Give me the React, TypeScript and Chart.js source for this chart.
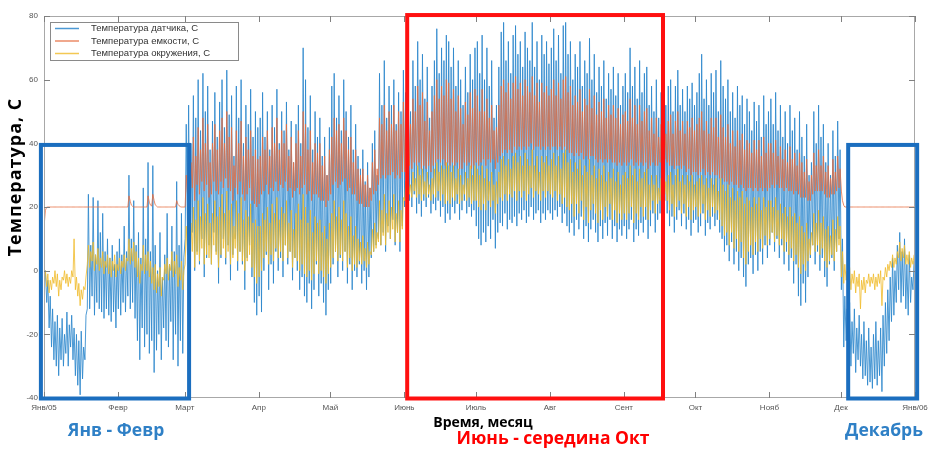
import React, { useEffect, useRef } from "react";
import { Chart, registerables } from "chart.js";

Chart.register(...registerables);

// ---- axis ticks ----
const monthTicks = [0, 31, 59, 90, 120, 151, 181, 212, 243, 273, 304, 334, 365];
const monthLabels = ["Янв/05", "Февр", "Март", "Апр", "Май", "Июнь", "Июль", "Авг", "Сент", "Окт", "Нояб", "Дек", "Янв/06"];
const yTicks = [-40, -20, 0, 20, 40, 60, 80];

const seriesNames = ["Температура датчика, С", "Температура емкости, С", "Температура окружения, С"];

// ---- daily maxima / minima (one value per day, Jan..Dec) ----
const sensorHigh = [
  0, -3, -8, -12, -16, -14, -18, -15, -20, -13, -17, -14, -18, -20, -22, -19, -24, -14, 24, 8, 23, 5, 22, 12, 18, 6, 10, 4, 8, 2, 6,
  10, 5, 14, 6, 30, 10, 22, 8, 12, 4, 26, 10, 34, 6, 33, 8, 0, 12, -2, 5, 18, 2, 14, 6, 28, 8, 18, 4,
  46, 52, 40, 55, 48, 60, 44, 62, 50, 58, 38, 47, 56, 42, 53, 60, 45, 63, 49, 55, 36, 58, 48, 60, 40, 52, 46, 57, 42, 50, 45,
  48, 56, 42, 50, 38, 52, 45, 57, 40, 50, 44, 53, 38, 47, 34, 46, 52, 40, 70, 60, 45, 55, 38, 50, 42, 48, 36, 42, 30, 45,
  58, 62, 48, 55, 44, 60, 50, 42, 52, 38, 46, 36, 32, 38, 28, 34, 26, 40, 44, 30, 62, 52, 66, 48, 58, 52, 60, 46, 56, 50, 63,
  56, 62, 50, 66, 58, 72, 60, 68, 54, 64, 48, 58, 66, 76, 62, 70, 66, 74, 72, 64, 70, 58, 66, 60, 52, 64, 56, 68, 60, 70,
  72, 62, 74, 60, 70, 58, 66, 48, 52, 64, 75, 78, 66, 72, 62, 74, 77, 68, 72, 64, 75, 70, 66, 78, 64, 72, 60, 74, 68, 72, 65,
  70, 76, 66, 74, 62, 77, 78, 68, 72, 60, 68, 64, 72, 58, 66, 62, 73, 60, 68, 56, 64, 58, 66, 54, 62, 57, 64, 55, 62, 52, 58,
  62, 56, 70, 58, 64, 54, 66, 56, 62, 64, 52, 58, 50, 60, 48, 56, 46, 52, 58, 60, 50, 58, 63, 52, 57, 50, 58, 54, 59, 52,
  56, 62, 68, 54, 60, 52, 62, 56, 63, 50, 66, 58, 54, 60, 50, 56, 48, 58, 52, 55, 46, 54, 50, 44, 53, 47, 52, 42, 55, 46, 50,
  54, 46, 56, 44, 52, 42, 50, 40, 52, 44, 48, 38, 50, 42, 36, 46, 30, 34, 50, 40, 52, 42, 46, 34, 40, 30, 44, 36, 47, 38,
  10, -8, -12, -10, -16, -12, -18, -14, -20, -16, -22, -18, -24, -20, -16, -22, -18, -14, -10, -6, -2, 4, 0, 8, 12, 6, 10, 2, 5, -2, 3,
];
const sensorLow = [
  -4, -10, -18, -24, -28, -30, -33, -28, -30, -26, -30, -24, -28, -33, -36, -39, -34, -28, -12, -12, -8, -14, -10, -12, -13, -15, -12, -14, -16, -13, -18,
  -12, -14, -10, -13, -8, -12, -10, -15, -22, -28, -18, -24, -20, -26, -22, -32, -25, -20, -28, -18, -22, -24, -16, -28, -20, -30, -22, -26,
  10, 8, 5, 12, 0, 6, 2, 10, -2, 4, 8, 2, 12, 6, -4, 4, 10, 2, 8, -3, 5, 10, 0, 6, 2, -6, 4, 8, -2, -10, -14,
  -8, -13, 0, 5, -6, 2, -4, 6, 0, 4, -2, 8, 2, 6, -3, 4, 0, -6, -2, -8, -10, -4, -12, -6, 2, -8, -4, -10, -14, -6,
  -4, 2, 6, -2, 4, 0, 6, -4, 2, -6, 0, -2, 2, -4, 0, -6, -2, 4, 6, 8, 10, 8, 12, 6, 14, 10, 16, 8, 12, 6, 14,
  20, 18, 22, 20, 24, 18, 21, 17, 22, 20, 23, 18, 21, 19, 22, 17, 20, 15, 18, 16, 20, 18, 21, 16, 19, 22, 18, 20, 17, 19,
  14, 10, 8, 12, 9, 14, 10, 16, 7, 12, 15, 14, 18, 13, 16, 15, 17, 14, 18, 16, 19, 15, 17, 20, 16, 18, 19, 15, 18, 16, 19,
  18, 16, 19, 17, 20, 15, 18, 14, 12, 15, 11, 16, 13, 17, 10, 14, 9, 13, 16, 12, 9, 14, 10, 15, 11, 16, 10, 14, 9, 13, 11,
  14, 10, 13, 16, 9, 13, 11, 15, 12, 16, 10, 14, 18, 12, 16, 18, 20, 22, 18, 14, 17, 12, 16, 19, 14, 18, 13, 16, 11, 15,
  16, 12, 14, 18, 11, 15, 13, 17, 14, 16, 12, 10, 6, 8, 3, 9, 2, 6, 0, 4, -2, -5, 2, 4, -1, 5, 0, 6, 2, 8, 4,
  8, 12, 6, 10, 4, 8, 2, 6, 0, 4, -4, 2, -8, -11, -4, -10, -2, 4, 8, 2, 6, 0, 4, -2, -5, 2, 4, 0, 6, 10,
  -6, -24, -22, -28, -30, -26, -32, -28, -30, -34, -33, -36, -35, -37, -34, -36, -33, -38, -30, -26, -22, -16, -14, -10, -6, -10, -8, -12, -14, -10, -6,
];

const tankHigh = [
  19, 20, 20, 20, 20, 20, 20, 20, 20, 20, 20, 20, 20, 20, 20, 20, 20, 20, 20, 20, 20, 20, 20, 20, 20, 20, 20, 20, 20, 20, 20,
  20, 20, 20, 20, 23.5, 20.6, 20, 20, 20, 20, 20, 20, 23.5, 20.6, 24, 20.7, 20, 20, 20, 20, 20, 20, 20, 20, 22, 20.4, 20, 20,
  30, 38, 34, 42, 36, 45, 38, 48, 40, 46, 34, 40, 46, 38, 44, 48, 40, 50, 42, 45, 33, 44, 40, 47, 36, 42, 38, 44, 36, 38, 35,
  36, 42, 38, 44, 36, 45, 40, 48, 38, 44, 40, 46, 36, 42, 34, 40, 44, 36, 50, 46, 38, 44, 34, 40, 37, 40, 33, 36, 30, 38,
  42, 48, 44, 46, 40, 48, 44, 38, 42, 34, 38, 32, 30, 32, 27, 30, 26, 34, 38, 32, 48, 46, 52, 44, 50, 46, 52, 44, 50, 46, 53,
  48, 52, 46, 54, 50, 58, 52, 56, 47, 53, 44, 50, 55, 60, 54, 58, 55, 60, 59, 54, 57, 50, 55, 51, 46, 53, 49, 56, 51, 57,
  55, 50, 57, 50, 54, 48, 52, 44, 45, 52, 58, 60, 56, 59, 54, 59, 61, 57, 59, 55, 60, 58, 56, 61, 55, 59, 53, 59, 56, 58, 55,
  57, 60, 55, 59, 54, 60, 61, 56, 58, 52, 55, 53, 57, 50, 54, 52, 57, 51, 55, 49, 53, 50, 54, 48, 52, 49, 52, 48, 51, 46, 49,
  50, 47, 54, 48, 52, 46, 52, 47, 50, 51, 44, 48, 43, 48, 42, 46, 40, 43, 47, 49, 43, 47, 50, 44, 47, 43, 47, 45, 48, 44,
  46, 48, 50, 44, 47, 43, 48, 45, 48, 42, 49, 45, 42, 46, 40, 44, 39, 44, 41, 43, 38, 41, 40, 37, 41, 38, 41, 36, 42, 37, 40,
  40, 37, 41, 36, 39, 35, 38, 34, 39, 35, 37, 33, 37, 34, 31, 35, 28, 30, 37, 33, 38, 33, 36, 31, 33, 29, 35, 31, 36, 32,
  22, 20, 20, 20, 20, 20, 20, 20, 20, 20, 20, 20, 20, 20, 20, 20, 20, 20, 20, 20, 20, 20, 20, 20, 20, 20, 20, 20, 20, 20, 20,
];
const tankLow = [
  15, 20, 20, 20, 20, 20, 20, 20, 20, 20, 20, 20, 20, 20, 20, 20, 20, 20, 20, 20, 20, 20, 20, 20, 20, 20, 20, 20, 20, 20, 20,
  20, 20, 20, 20, 20, 21.8, 20.2, 20, 20, 20, 20, 20, 20, 21.5, 20.3, 22, 20.3, 20, 20, 20, 20, 20, 20, 20, 20, 20.8, 20.1, 20,
  20, 24, 23, 26, 22, 27, 24, 28, 25, 27, 23, 24, 28, 25, 24, 28, 26, 29, 26, 25, 22, 26, 24, 28, 24, 22, 24, 26, 22, 21, 20,
  21, 24, 25, 27, 24, 26, 25, 28, 25, 27, 26, 28, 25, 26, 23, 25, 26, 24, 26, 27, 24, 25, 22, 24, 24, 23, 22, 22, 20, 22,
  24, 27, 28, 26, 27, 28, 29, 25, 26, 24, 24, 22, 21, 21, 20, 20, 20, 22, 24, 25, 27, 29, 30, 29, 30, 30, 31, 29, 30, 29, 31,
  31, 32, 33, 32, 34, 33, 34, 32, 33, 32, 33, 31, 33, 34, 35, 34, 35, 33, 34, 33, 34, 33, 34, 32, 32, 34, 33, 34, 32, 33,
  34, 33, 34, 35, 33, 35, 34, 35, 32, 34, 36, 37, 38, 37, 38, 37, 39, 38, 39, 38, 39, 38, 39, 40, 38, 39, 39, 38, 39, 38, 39,
  38, 39, 39, 38, 39, 38, 39, 38, 37, 37, 36, 37, 36, 37, 35, 36, 35, 36, 36, 35, 34, 35, 34, 35, 34, 35, 34, 34, 33, 34, 33,
  34, 33, 34, 35, 33, 34, 33, 34, 33, 34, 32, 33, 34, 33, 33, 34, 34, 35, 34, 33, 33, 32, 33, 33, 32, 33, 31, 32, 30, 31,
  31, 30, 31, 32, 30, 31, 30, 31, 30, 30, 29, 29, 28, 28, 27, 28, 27, 27, 26, 27, 26, 25, 26, 26, 25, 26, 25, 26, 25, 26, 25,
  26, 27, 26, 27, 26, 26, 25, 26, 25, 25, 24, 25, 24, 23, 23, 23, 22, 22, 24, 25, 25, 25, 25, 24, 23, 23, 24, 24, 25, 26,
  25, 20.5, 20, 20, 20, 20, 20, 20, 20, 20, 20, 20, 20, 20, 20, 20, 20, 20, 20, 20, 20, 20, 20, 20, 20, 20, 20, 20, 20, 20, 20,
];

const ambientHigh = [
  0, -1, -3, -2, 0, -1, -3, -2, 0, -1, -2, 0, 10, -2, -4, -6, -5, -2, 8, 6, 9, 5, 7, 4, 6, 3, 5, 4, 3, 5, 2,
  4, 3, 5, 4, 10, 7, 9, 6, 4, 2, 8, 5, 6, 3, 1, 2, -1, 1, -2, 2, 4, 2, 6, 3, 5, 1, 3, 0,
  14, 18, 15, 20, 16, 22, 17, 23, 18, 21, 15, 18, 22, 17, 20, 24, 18, 25, 19, 21, 14, 22, 18, 23, 16, 19, 17, 21, 15, 16, 14,
  14, 18, 16, 20, 15, 21, 18, 23, 16, 20, 18, 22, 15, 19, 13, 18, 21, 16, 24, 20, 15, 19, 12, 17, 15, 16, 12, 14, 10, 15,
  18, 22, 17, 20, 16, 22, 18, 14, 17, 11, 14, 10, 9, 11, 7, 9, 6, 13, 15, 12, 22, 19, 24, 18, 22, 20, 24, 18, 22, 19, 23,
  28, 30, 27, 31, 29, 33, 30, 32, 28, 31, 27, 29, 32, 34, 31, 33, 32, 34, 33, 31, 33, 29, 32, 30, 27, 31, 29, 33, 30, 33,
  32, 30, 33, 29, 32, 28, 31, 27, 28, 31, 35, 36, 33, 35, 32, 36, 37, 34, 36, 33, 37, 35, 33, 38, 33, 36, 31, 36, 34, 36, 33,
  35, 37, 33, 36, 32, 37, 38, 34, 35, 31, 34, 32, 35, 30, 33, 31, 35, 30, 33, 29, 32, 30, 33, 28, 31, 29, 32, 28, 31, 27, 30,
  31, 29, 33, 30, 32, 28, 32, 29, 31, 32, 27, 30, 27, 30, 26, 29, 26, 28, 30, 31, 27, 30, 32, 28, 30, 27, 30, 28, 30, 27,
  28, 29, 30, 27, 29, 26, 29, 27, 29, 25, 29, 27, 25, 27, 23, 26, 22, 25, 23, 25, 21, 23, 22, 20, 23, 21, 23, 19, 23, 20, 22,
  22, 20, 23, 19, 21, 18, 20, 17, 20, 17, 18, 15, 17, 14, 12, 15, 10, 12, 18, 15, 19, 15, 17, 13, 14, 11, 16, 13, 17, 14,
  6, 2, 0, 1, -1, 0, -2, -1, -3, -2, -3, -1, -2, -1, -2, -1, 0, -2, 1, 2, 3, 5, 4, 6, 9, 7, 8, 5, 6, 4, 5,
];
const ambientLow = [
  -3, -5, -7, -6, -4, -5, -8, -6, -3, -4, -5, -4, -2, -6, -8, -11, -9, -6, 2, 1, 3, 0, 2, 0, 1, -1, 1, -1, -2, 0, -2,
  0, -1, 1, 0, 3, 2, 3, 1, -2, -4, 0, -1, 0, -2, -4, -6, -7, -5, -8, -3, -1, -3, 0, -2, -1, -5, -3, -6,
  2, 5, 3, 6, 1, 5, 3, 7, 2, 5, 4, 2, 8, 5, 1, 5, 7, 4, 6, 2, 4, 7, 3, 6, 3, 0, 3, 5, 1, -2, -4,
  -2, 0, 4, 6, 2, 5, 3, 7, 4, 6, 3, 8, 4, 6, 1, 4, 3, 0, 2, -1, -2, 0, -3, -1, 3, -1, 0, -2, -4, -1,
  1, 4, 6, 3, 5, 3, 6, 1, 4, 0, 2, 1, 3, 2, 3, 1, 2, 5, 6, 7, 9, 8, 11, 8, 12, 10, 13, 9, 12, 9, 13,
  22, 23, 24, 23, 25, 23, 24, 22, 24, 23, 24, 22, 24, 23, 25, 22, 24, 21, 22, 21, 23, 22, 24, 21, 22, 24, 22, 23, 21, 22,
  22, 20, 19, 21, 19, 22, 20, 22, 18, 21, 23, 22, 24, 22, 24, 23, 25, 22, 25, 23, 25, 22, 24, 26, 23, 25, 24, 22, 25, 23, 25,
  24, 23, 25, 22, 24, 21, 23, 20, 19, 21, 17, 21, 18, 22, 16, 20, 15, 19, 21, 18, 15, 19, 16, 20, 17, 21, 16, 19, 15, 18, 16,
  18, 16, 18, 20, 15, 18, 16, 20, 17, 20, 16, 19, 22, 18, 21, 22, 23, 24, 22, 19, 21, 17, 20, 22, 18, 21, 17, 20, 16, 19,
  20, 17, 18, 21, 16, 19, 17, 20, 18, 19, 16, 14, 11, 12, 8, 12, 7, 10, 6, 9, 4, 2, 6, 8, 5, 9, 6, 10, 7, 11, 8,
  10, 12, 9, 11, 8, 10, 6, 9, 5, 7, 3, 5, 1, -1, 2, 0, 3, 5, 8, 6, 8, 5, 7, 3, 1, 3, 5, 3, 6, 8,
  -2, -4, -3, -5, -6, -4, -7, -5, -12, -6, -7, -4, -5, -4, -6, -5, -4, -11, -3, -2, 0, 1, 1, 2, 4, 3, 4, 2, 2, 1, 2,
];

// ---- highlighted periods (in data units: day of year, temperature) ----
const highlights = [
  { from: -1.3, to: 60.8, top: 39.5, color: "#1b6ebf" },
  { from: 152.2, to: 259.4, top: 80.3, color: "#ff1010" },
  { from: 337, to: 365.9, top: 39.5, color: "#1b6ebf" },
];

const COLORS = {
  sensor: "rgba(45,135,205,0.85)",
  tank: "rgba(230,110,65,0.8)",
  ambient: "rgba(240,188,45,0.82)",
};

function dailyPoints(hi: number[], lo: number[]) {
  const pts: { x: number; y: number }[] = [];
  for (let d = 0; d < hi.length; d++) {
    pts.push({ x: d + 0.15, y: lo[d] });
    pts.push({ x: d + 0.6, y: hi[d] });
  }
  return pts;
}

const FONT_BOLD = "'Open Sans', 'Liberation Sans', sans-serif";

const overlayPlugin = {
  id: "overlay",
  afterDraw(chart: any) {
    const { ctx, chartArea: a, scales } = chart;
    const xs = scales.x;
    const ys = scales.y;
    ctx.save();

    // axes box
    ctx.strokeStyle = "#a8a8a8";
    ctx.lineWidth = 1;
    ctx.strokeRect(a.left + 0.5, a.top + 0.5, a.right - a.left - 1, a.bottom - a.top - 1);

    // inward tick marks
    ctx.strokeStyle = "#808080";
    ctx.beginPath();
    monthTicks.forEach((v) => {
      const px = Math.round(xs.getPixelForValue(v)) + 0.5;
      ctx.moveTo(px, a.bottom);
      ctx.lineTo(px, a.bottom - 6);
      ctx.moveTo(px, a.top);
      ctx.lineTo(px, a.top + 6);
    });
    yTicks.forEach((v) => {
      const py = Math.round(ys.getPixelForValue(v)) + 0.5;
      ctx.moveTo(a.left, py);
      ctx.lineTo(a.left + 6, py);
      ctx.moveTo(a.right, py);
      ctx.lineTo(a.right - 6, py);
    });
    ctx.stroke();

    // legend
    const lx = 50, ly = 22, lw = 188, lh = 38;
    ctx.fillStyle = "#ffffff";
    ctx.fillRect(lx, ly, lw, lh);
    ctx.strokeStyle = "#8a8a8a";
    ctx.strokeRect(lx + 0.5, ly + 0.5, lw, lh);
    const legendColors = [COLORS.sensor, COLORS.tank, COLORS.ambient];
    ctx.font = "9.5px 'Liberation Sans', Arial, sans-serif";
    ctx.textBaseline = "middle";
    ctx.textAlign = "left";
    seriesNames.forEach((name, i) => {
      const yy = ly + 6.5 + i * 12.5;
      ctx.strokeStyle = legendColors[i];
      ctx.lineWidth = 1.5;
      ctx.beginPath();
      ctx.moveTo(lx + 5, yy);
      ctx.lineTo(lx + 29, yy);
      ctx.stroke();
      ctx.fillStyle = "#333333";
      ctx.fillText(name, lx + 41, yy);
    });

    // highlight rectangles
    ctx.lineWidth = 4;
    highlights.forEach((h) => {
      const x1 = xs.getPixelForValue(h.from);
      const x2 = xs.getPixelForValue(h.to);
      const y1 = ys.getPixelForValue(h.top);
      const y2 = ys.getPixelForValue(-40) + 0.5;
      ctx.strokeStyle = h.color;
      ctx.strokeRect(x1, y1, x2 - x1, y2 - y1);
    });

    // axis titles
    ctx.fillStyle = "#000000";
    ctx.textAlign = "center";
    ctx.textBaseline = "middle";
    ctx.font = `bold 14px ${FONT_BOLD}`;
    ctx.fillText("Время, месяц", 483, 423);
    ctx.save();
    ctx.translate(16, 177);
    ctx.rotate(-Math.PI / 2);
    ctx.font = `bold 18px ${FONT_BOLD}`;
    try { (ctx as any).letterSpacing = "1px"; } catch (e) { /* ignore */ }
    ctx.fillText("Температура, С", 0, 0);
    try { (ctx as any).letterSpacing = "0px"; } catch (e) { /* ignore */ }
    ctx.restore();

    // period labels
    ctx.font = `bold 17.5px ${FONT_BOLD}`;
    ctx.fillStyle = "#2f80c6";
    ctx.fillText("Янв - Февр", 116, 431);
    ctx.fillText("Декабрь", 884, 431);
    ctx.fillStyle = "#ff0000";
    ctx.fillText("Июнь - середина Окт", 553, 439);

    ctx.restore();
  },
};

export default function App() {
  const ref = useRef<HTMLCanvasElement | null>(null);

  useEffect(() => {
    if (!ref.current) return;
    const chart = new Chart(ref.current, {
      type: "line",
      data: {
        datasets: [
          {
            label: seriesNames[2],
            data: dailyPoints(ambientHigh, ambientLow),
            borderColor: COLORS.ambient,
            borderWidth: 1,
            order: 0,
          },
          {
            label: seriesNames[1],
            data: dailyPoints(tankHigh, tankLow),
            borderColor: COLORS.tank,
            borderWidth: 1,
            order: 1,
          },
          {
            label: seriesNames[0],
            data: dailyPoints(sensorHigh, sensorLow),
            borderColor: COLORS.sensor,
            borderWidth: 1,
            order: 2,
          },
        ],
      },
      options: {
        animation: false,
        responsive: false,
        maintainAspectRatio: false,
        layout: { padding: { top: 16, right: 13, left: 0, bottom: 0 } },
        elements: { point: { radius: 0 }, line: { tension: 0 } },
        plugins: { legend: { display: false }, tooltip: { enabled: false } },
        scales: {
          x: {
            type: "linear",
            min: 0,
            max: 365,
            grid: { display: false, drawTicks: false },
            border: { display: false },
            afterBuildTicks: (s: any) => {
              s.ticks = monthTicks.map((v) => ({ value: v }));
            },
            afterFit: (s: any) => {
              s.height = 51;
              s.paddingLeft = 0;
              s.paddingRight = 0;
            },
            ticks: {
              autoSkip: false,
              maxRotation: 0,
              padding: 5,
              color: "#555555",
              font: { size: 8, family: "'Liberation Sans', Arial, sans-serif" },
              callback: (v: any) => {
                const i = monthTicks.indexOf(Number(v));
                return i >= 0 ? monthLabels[i] : "";
              },
            },
          },
          y: {
            min: -40,
            max: 80,
            grid: { display: false, drawTicks: false },
            border: { display: false },
            afterBuildTicks: (s: any) => {
              s.ticks = yTicks.map((v) => ({ value: v }));
            },
            afterFit: (s: any) => {
              s.width = 44;
              s.paddingTop = 0;
              s.paddingBottom = 0;
            },
            ticks: {
              padding: 6,
              color: "#555555",
              font: { size: 8, family: "'Liberation Sans', Arial, sans-serif" },
            },
          },
        },
      },
      plugins: [overlayPlugin],
    });
    return () => chart.destroy();
  }, []);

  return (
    <div style={{ position: "fixed", left: 0, top: 0, width: 928, height: 449, background: "#fff" }}>
      <canvas ref={ref} width={928} height={449} style={{ display: "block" }} />
    </div>
  );
}
